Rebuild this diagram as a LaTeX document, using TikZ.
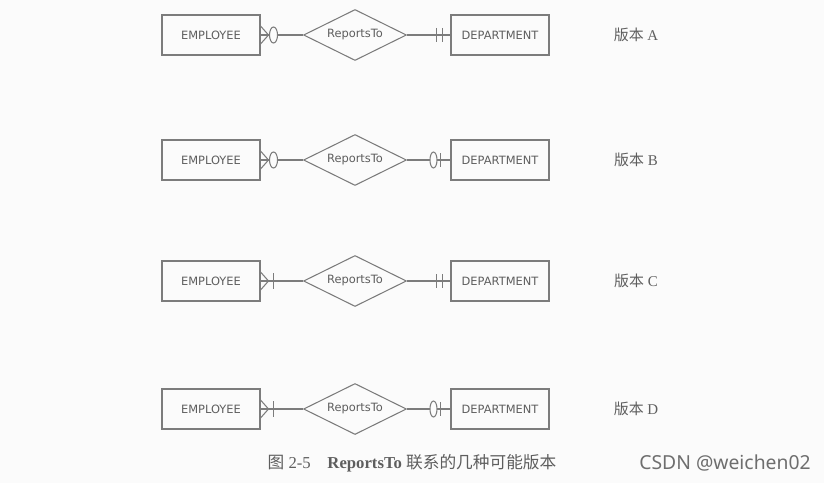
\documentclass[tikz,border=0pt]{standalone}
\usepackage{fontspec}
\setmainfont{Liberation Serif}
\newfontfamily\cjk{Noto Sans CJK SC}
\newfontfamily\ersans{DejaVu Sans}
\newfontfamily\wmsans{Noto Sans}
\usepackage{tikz}
\usetikzlibrary{shapes.geometric,calc}

\definecolor{lineg}{HTML}{7C7C7C}
\definecolor{textg}{HTML}{5E5E5E}
\definecolor{bgc}{HTML}{FBFBFB}

\begin{document}
\begin{tikzpicture}[
  x=0.02cm, y=-0.02cm,
  entity/.style={rectangle, draw=lineg, line width=0.6pt, minimum width=1.96cm, minimum height=0.8cm,
                 inner sep=0pt, text=textg, font=\ersans\fontsize{6.5}{8}\selectfont},
  rel/.style={diamond, aspect=2, draw=lineg, line width=0.6pt, minimum width=2.06cm, minimum height=1.02cm,
              inner sep=0pt, text=textg, font=\ersans\fontsize{6.5}{8}\selectfont},
  link/.style={draw=lineg, line width=0.6pt},
  ring/.style={draw=lineg, line width=0.6pt, fill=bgc},
  verlbl/.style={text=textg, font=\fontsize{8.5}{10}\selectfont},
  caplbl/.style={text=textg, font=\fontsize{9.5}{11}\selectfont},
  wmark/.style={text=textg!90, font=\wmsans\fontsize{11}{13}\selectfont},
]
\useasboundingbox[fill=bgc] (0,0) rectangle (824,483);

% four versions, one row each
\foreach \v/\y in {A/35, B/160, C/281, D/409} {
  \node[entity] (emp\v) at (211,\y) {EMPLOYEE};
  \node[rel]    (rep\v) at (355,\y) {ReportsTo};
  \node[entity] (dep\v) at (500,\y) {DEPARTMENT};
  \node[verlbl] (ver\v) at (636,\y) {{\cjk 版本} \v};
  \draw[link] (emp\v) -- (rep\v);
  \draw[link] (rep\v) -- (dep\v);
  % crow's foot at EMPLOYEE
  \draw[link] ($(emp\v.east)+(0,-9)$) -- ($(emp\v.east)+(8,0)$) -- ($(emp\v.east)+(0,9)$);
}

% version A: zero or many / exactly one
\draw[ring] ($(empA.east)+(13,0)$) ellipse [x radius=0.08cm, y radius=0.16cm];
\draw[link] ($(depA.west)+(-14,-7)$) -- ++(0,14);
\draw[link] ($(depA.west)+(-8,-7)$) -- ++(0,14);

% version B: zero or many / zero or one
\draw[ring] ($(empB.east)+(13,0)$) ellipse [x radius=0.08cm, y radius=0.16cm];
\draw[ring] ($(depB.west)+(-17,0)$) ellipse [x radius=0.07cm, y radius=0.16cm];
\draw[link] ($(depB.west)+(-10,-7)$) -- ++(0,14);

% version C: one or many / exactly one
\draw[link] ($(empC.east)+(13,-8)$) -- ++(0,16);
\draw[link] ($(depC.west)+(-14,-7)$) -- ++(0,14);
\draw[link] ($(depC.west)+(-8,-7)$) -- ++(0,14);

% version D: one or many / zero or one
\draw[link] ($(empD.east)+(13,-8)$) -- ++(0,16);
\draw[ring] ($(depD.west)+(-17,0)$) ellipse [x radius=0.07cm, y radius=0.16cm];
\draw[link] ($(depD.west)+(-10,-7)$) -- ++(0,14);

\node[caplbl] (cap) at (412,463) {{\cjk 图} 2-5\quad\textbf{ReportsTo} {\cjk 联系的几种可能版本}};
\node[wmark] (wm) at (725,463) {CSDN @weichen02};

\end{tikzpicture}
\end{document}
